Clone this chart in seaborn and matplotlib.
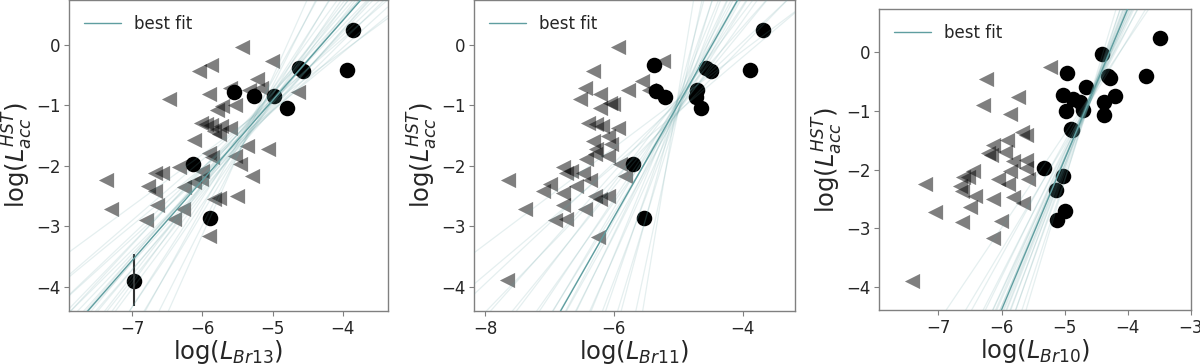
import matplotlib
matplotlib.use("Agg")
import matplotlib.pyplot as plt
import seaborn as sns

# ---------------- Data ---------------- #
# Br13 panel
br13_det_x = [-3.85, -3.94, -4.62, -4.57, -4.98, -4.79, -5.26, -5.55, -6.13, -5.89, -6.98]
br13_det_y = [0.24, -0.42, -0.38, -0.44, -0.85, -1.05, -0.85, -0.78, -1.97, -2.86, -3.90]
br13_lim_x = [-5.43, -5.01, -5.88, -6.05, -5.22, -5.17, -5.34, -5.60, -5.91, -4.63,
              -6.47, -5.53, -5.72, -5.79, -6.02, -5.95, -5.88, -5.74, -5.60, -5.76,
              -5.83, -6.12, -5.36, -5.06, -5.53, -5.91, -5.86, -5.46, -6.33, -6.00,
              -6.02, -6.12, -5.29, -6.68, -6.57, -7.37, -6.78, -6.68, -6.26, -5.76,
              -5.83, -5.50, -6.64, -6.28, -7.30, -6.40, -6.80, -5.91]
br13_lim_y = [-0.03, -0.26, -0.34, -0.44, -0.57, -0.71, -0.74, -0.71, -0.82, -0.78,
              -0.90, -1.00, -1.01, -1.07, -1.29, -1.30, -1.33, -1.34, -1.37, -1.48,
              -1.42, -1.57, -1.67, -1.72, -1.84, -1.78, -1.86, -1.97, -2.02, -2.08,
              -2.22, -2.26, -2.16, -2.11, -2.12, -2.24, -2.33, -2.41, -2.35, -2.53,
              -2.54, -2.49, -2.65, -2.71, -2.72, -2.87, -2.90, -3.16]
br13_err_x = [-6.98]
br13_err_lo = [-4.32]
br13_err_hi = [-3.45]
br13_fit = (1.32, 5.68)
br13_samp_slope = [0.85, 0.95, 1.0, 1.05, 1.1, 1.15, 1.2, 1.22, 1.25, 1.28, 1.3, 1.32, 1.35,
                   1.38, 1.4, 1.45, 1.5, 1.55, 1.6, 1.7, 1.8, 1.95, 2.1, 2.3, 2.6]
br13_samp_icpt = [3.29, 3.67, 4.10, 4.15, 4.56, 4.66, 5.12, 5.09, 5.45, 5.36, 5.60, 5.53, 5.94,
                  5.94, 6.22, 6.27, 6.69, 6.82, 7.26, 7.57, 8.27, 8.92, 9.91, 10.82, 12.46]

# Br11 panel
br11_det_x = [-3.69, -3.89, -4.57, -4.49, -4.71, -4.73, -4.65, -5.38, -5.34, -5.21, -5.71, -5.54]
br11_det_y = [0.24, -0.41, -0.38, -0.43, -0.74, -0.86, -1.05, -0.34, -0.77, -0.86, -1.97, -2.86]
br11_lim_x = [-5.94, -5.24, -6.33, -5.56, -6.45, -5.78, -5.45, -6.22, -6.53, -6.06,
              -6.01, -6.22, -6.40, -6.27, -6.19, -5.94, -6.09, -6.32, -6.04, -6.27,
              -6.30, -6.43, -6.09, -5.91, -5.83, -6.79, -6.74, -6.66, -6.48, -6.37,
              -6.58, -6.99, -7.10, -6.79, -6.30, -6.22, -6.09, -6.79, -6.45, -7.38,
              -6.74, -6.92, -6.25, -7.66, -7.64]
br11_lim_y = [-0.03, -0.26, -0.44, -0.59, -0.71, -0.74, -0.74, -0.82, -0.89, -0.96,
              -0.98, -1.04, -1.29, -1.31, -1.34, -1.37, -1.50, -1.59, -1.64, -1.72,
              -1.81, -1.88, -1.83, -1.97, -2.16, -2.02, -2.11, -2.08, -2.11, -2.24,
              -2.33, -2.30, -2.42, -2.44, -2.49, -2.54, -2.49, -2.65, -2.72, -2.72,
              -2.87, -2.90, -3.17, -3.89, -2.23]
br11_fit = (1.87, 8.37)
br11_samp_slope = [0.8, 0.9, 1.0, 1.1, 1.2, 1.3, 1.4, 1.5, 1.6, 1.7, 1.8, 1.85,
                   1.9, 2.0, 2.1, 2.2, 2.4, 2.6, 2.8, 3.1, 3.5, 4.0, 5.0, 6.5]
br11_samp_icpt = [3.10, 3.40, 4.05, 4.38, 5.10, 5.45, 6.12, 6.40, 7.05, 7.42, 8.10, 8.25,
                  8.40, 9.10, 9.45, 10.08, 10.90, 12.12, 12.90, 14.60, 16.40, 19.15, 23.90, 31.70]

# Br10 panel
br10_det_x = [-3.49, -3.71, -4.41, -4.31, -4.29, -4.96, -4.66, -5.03, -4.87, -4.76, -4.71,
              -4.98, -4.20, -4.38, -4.38, -4.90, -4.88, -5.33, -5.03, -5.14, -5.00, -5.12]
br10_det_y = [0.25, -0.40, -0.02, -0.40, -0.44, -0.35, -0.59, -0.72, -0.79, -0.84, -0.98,
              -0.99, -0.74, -0.84, -1.06, -1.31, -1.33, -1.97, -2.10, -2.35, -2.71, -2.86]
br10_lim_x = [-5.24, -6.25, -5.74, -6.29, -5.87, -5.68, -5.61, -5.92, -6.13, -6.21,
              -5.95, -6.16, -5.82, -5.61, -5.61, -5.87, -6.05, -5.89, -5.58, -6.45,
              -6.61, -6.53, -6.66, -6.63, -6.42, -6.50, -7.21, -7.05, -6.63, -6.13,
              -5.82, -5.66, -6.01, -6.13, -7.42]
br10_lim_y = [-0.25, -0.45, -0.76, -0.90, -1.05, -1.35, -1.40, -1.49, -1.57, -1.71,
              -1.69, -1.74, -1.85, -1.83, -1.97, -2.02, -2.16, -2.25, -2.16, -2.02,
              -2.13, -2.13, -2.28, -2.36, -2.44, -2.64, -2.25, -2.72, -2.89, -2.50,
              -2.47, -2.56, -2.87, -3.17, -3.90]
br10_fit = (2.57, 11.03)
br10_samp_slope = [1.6, 1.8, 1.95, 2.1, 2.2, 2.3, 2.35, 2.4, 2.45, 2.5, 2.55,
                   2.6, 2.65, 2.7, 2.75, 2.8, 2.9, 3.0, 3.1, 3.3, 3.6]
br10_samp_icpt = [6.61, 7.43, 8.23, 8.82, 9.37, 9.72, 10.04, 10.19, 10.54, 10.67, 10.97,
                  11.10, 11.44, 11.58, 11.91, 12.03, 12.58, 12.94, 13.51, 14.34, 15.81]

FIT_COLOR = "#5f9ea0"


def draw_panel(ax, det_x, det_y, lim_x, lim_y, fit, samp_slope, samp_icpt,
               xlabel, xlim, xticks):
    """Scatter of detections/upper limits plus fit lines."""
    sns.scatterplot(x=lim_x, y=lim_y, marker="<", color="k", alpha=0.5,
                    s=120, linewidth=0, ax=ax, zorder=2)
    sns.scatterplot(x=det_x, y=det_y, marker="o", color="k",
                    s=125, linewidth=0, ax=ax, zorder=3)
    for m, b in zip(samp_slope, samp_icpt):
        ax.axline((0, b), slope=m, color=FIT_COLOR, alpha=0.16, lw=0.9, zorder=4)
    ax.axline((0, fit[1]), slope=fit[0], color=FIT_COLOR, lw=1.0, zorder=5,
              label="best fit")

    ax.set_xlim(xlim)
    ax.set_ylim(-4.4, 0.74)
    ax.set_xticks(xticks)
    ax.set_yticks([0, -1, -2, -3, -4])
    ax.tick_params(labelsize=12, color="#808080", pad=2.5)
    ax.set_xlabel(xlabel, fontsize=17.5, labelpad=0)
    ax.set_ylabel(r"log($L_{acc}^{HST}$)", fontsize=17.5, labelpad=1)
    for sp in ax.spines.values():
        sp.set_color("#808080")
        sp.set_linewidth(1.0)
    ax.legend(loc="upper left", frameon=False, fontsize=12, handlelength=2.2)


sns.set_style("ticks")
plt.rcParams["font.family"] = ["DejaVu Sans"]

fig = plt.figure(figsize=(12, 3.64), dpi=100)
ax1 = fig.add_axes([0.0575, 0.145, 0.2655, 0.855])
ax2 = fig.add_axes([0.395, 0.145, 0.2675, 0.855])
ax3 = fig.add_axes([0.7325, 0.147, 0.26, 0.828])

draw_panel(ax1, br13_det_x, br13_det_y, br13_lim_x, br13_lim_y, br13_fit,
           br13_samp_slope, br13_samp_icpt, r"log($L_{Br13}$)", (-7.9, -3.36),
           [-7, -6, -5, -4])
ax1.vlines(br13_err_x, br13_err_lo, br13_err_hi, color="#333333", lw=1.5, zorder=3)

draw_panel(ax2, br11_det_x, br11_det_y, br11_lim_x, br11_lim_y, br11_fit,
           br11_samp_slope, br11_samp_icpt, r"log($L_{Br11}$)", (-8.17, -3.19),
           [-8, -6, -4])

draw_panel(ax3, br10_det_x, br10_det_y, br10_lim_x, br10_lim_y, br10_fit,
           br10_samp_slope, br10_samp_icpt, r"log($L_{Br10}$)", (-7.94, -3.0),
           [-7, -6, -5, -4, -3])

fig.savefig("out.png", dpi=100)
plt.close(fig)
